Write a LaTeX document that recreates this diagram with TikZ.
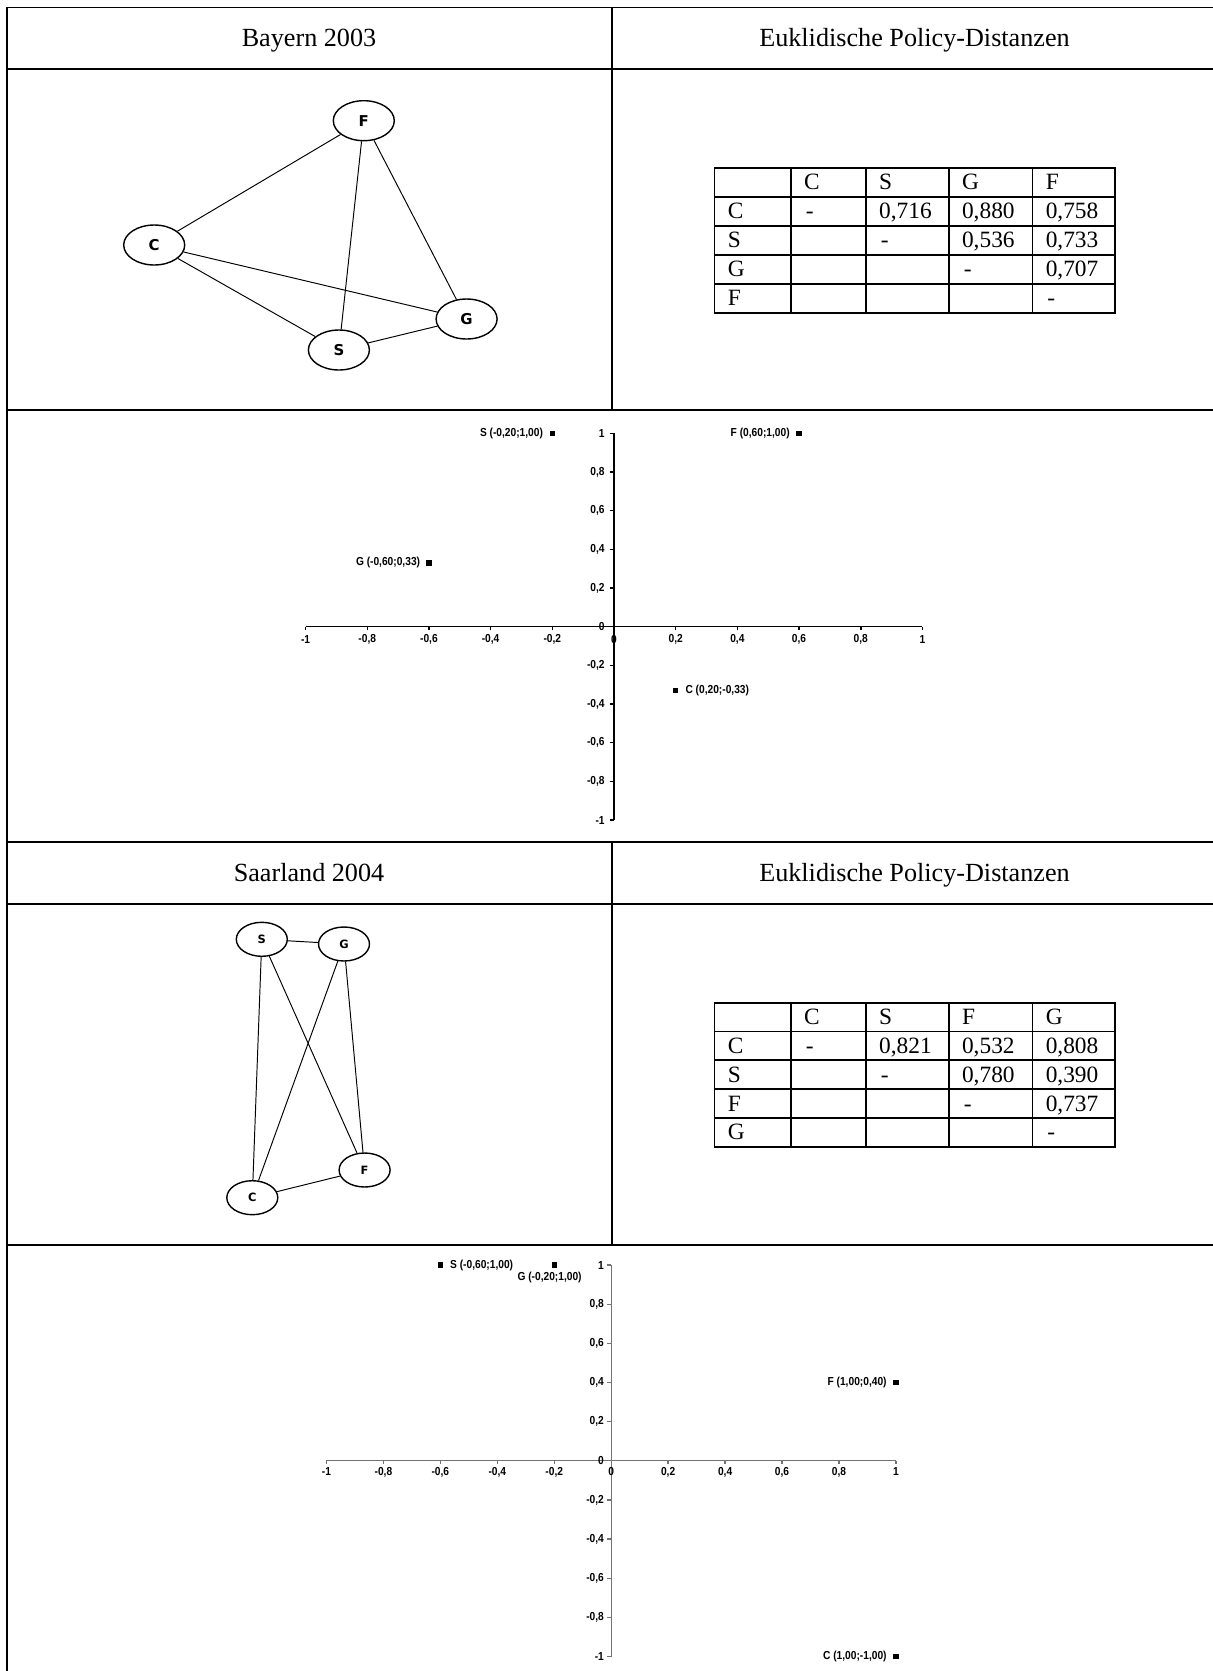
\documentclass[tikz,border=0pt]{standalone}
\usepackage{fontspec}
\setmainfont{Liberation Serif}
\newfontfamily\plotfont[FakeStretch=0.88]{Liberation Sans}
\newfontfamily\nodefont{DejaVu Sans}
\usetikzlibrary{shapes.geometric}
\begin{document}
\begin{tikzpicture}[x=0.02cm,y=-0.02cm,
  frame/.style={line width=1.1pt, line cap=rect},
  gridline/.style={line width=1pt, line cap=rect},
  party/.style={ellipse, draw, line width=0.8pt, minimum width=1.22cm, minimum height=0.8cm, inner sep=0pt, font=\nodefont\bfseries\fontsize{8.5}{9}\selectfont},
  partysmall/.style={party, minimum width=1.02cm, minimum height=0.68cm, font=\nodefont\bfseries\fontsize{6.5}{7}\selectfont},
  edge/.style={line width=0.55pt},
  title/.style={anchor=base, font=\fontsize{14.9}{16}\selectfont, inner sep=0pt},
  cell/.style={anchor=base west, font=\fontsize{13.3}{14}\selectfont, inner sep=0pt},
  axisA/.style={line width=0.85pt, black},
  axisB/.style={line width=0.75pt, black!55},
  ticklab/.style={font=\plotfont\bfseries\fontsize{6.6}{7}\selectfont, inner sep=0pt},
  marker/.style={rectangle, fill=black, minimum size=0.11cm, inner sep=0pt}
]
\useasboundingbox (0,0) rectangle (1213,1671);

% ---------- frame ----------
\draw[frame] (1213,7.5) -- (7,7.5) -- (7,1671);
\foreach \y in {69,410,842,904,1245} \draw[frame] (7,\y) -- (1213,\y);
\draw[frame] (612,7.5) -- (612,410);
\draw[frame] (612,842) -- (612,1245);

% ---------- titles ----------
\node[title] (t1) at (309,46.7) {Bayern 2003};
\node[title] (t2) at (914.5,46.7) {Euklidische Policy-Distanzen};
\node[title] (t3) at (309,881.7) {Saarland 2004};
\node[title] (t4) at (914.5,881.7) {Euklidische Policy-Distanzen};

% ---------- graph Bayern ----------
\node[party] (bF) at (363.8,120.7) {F};
\node[party] (bC) at (154.2,245) {C};
\node[party] (bG) at (466.6,319) {G};
\node[party] (bS) at (338.9,350) {S};
\draw[edge] (bC) -- (bF);
\draw[edge] (bF) -- (bS);
\draw[edge] (bF) -- (bG);
\draw[edge] (bC) -- (bG);
\draw[edge] (bC) -- (bS);
\draw[edge] (bS) -- (bG);

% ---------- graph Saarland ----------
\node[partysmall] (sS) at (261.8,939.3) {S};
\node[partysmall] (sG) at (344,944) {G};
\node[partysmall] (sF) at (364.6,1170) {F};
\node[partysmall] (sC) at (252.3,1197.7) {C};
\draw[edge] (sS) -- (sG);
\draw[edge] (sS) -- (sC);
\draw[edge] (sS) -- (sF);
\draw[edge] (sG) -- (sC);
\draw[edge] (sG) -- (sF);
\draw[edge] (sC) -- (sF);

% ---------- table Bayern ----------
\foreach \x in {714.5,790.8,865.8,948.7,1032.4,1115.2} \draw[gridline] (\x,167.7) -- (\x,312.7);
\foreach \y in {167.7,196.7,225.7,254.7,283.7,312.7} \draw[gridline] (714.5,\y) -- (1115.2,\y);
\node[cell] (a01) at (803.8,189.7) {C};
\node[cell] (a02) at (878.8,189.7) {S};
\node[cell] (a03) at (961.7,189.7) {G};
\node[cell] (a04) at (1045.4,189.7) {F};
\node[cell] (a10) at (727.5,218.7) {C};
\node[cell] (a11) at (805.5,218.7) {-};
\node[cell] (a12) at (878.8,218.7) {0,716};
\node[cell] (a13) at (961.7,218.7) {0,880};
\node[cell] (a14) at (1045.4,218.7) {0,758};
\node[cell] (a20) at (727.5,247.7) {S};
\node[cell] (a22) at (880.5,247.7) {-};
\node[cell] (a23) at (961.7,247.7) {0,536};
\node[cell] (a24) at (1045.4,247.7) {0,733};
\node[cell] (a30) at (727.5,276.7) {G};
\node[cell] (a33) at (963.5,276.7) {-};
\node[cell] (a34) at (1045.4,276.7) {0,707};
\node[cell] (a40) at (727.5,305.7) {F};
\node[cell] (a44) at (1047,305.7) {-};

% ---------- table Saarland ----------
\foreach \x in {714.5,790.8,865.8,948.7,1032.4,1115.2} \draw[gridline] (\x,1002.7) -- (\x,1146.7);
\foreach \y in {1002.7,1031.5,1060.3,1089.1,1117.9,1146.7} \draw[gridline] (714.5,\y) -- (1115.2,\y);
\node[cell] (b01) at (803.8,1024.7) {C};
\node[cell] (b02) at (878.8,1024.7) {S};
\node[cell] (b03) at (961.7,1024.7) {F};
\node[cell] (b04) at (1045.4,1024.7) {G};
\node[cell] (b10) at (727.5,1053.5) {C};
\node[cell] (b11) at (805.5,1053.5) {-};
\node[cell] (b12) at (878.8,1053.5) {0,821};
\node[cell] (b13) at (961.7,1053.5) {0,532};
\node[cell] (b14) at (1045.4,1053.5) {0,808};
\node[cell] (b20) at (727.5,1082.3) {S};
\node[cell] (b22) at (880.5,1082.3) {-};
\node[cell] (b23) at (961.7,1082.3) {0,780};
\node[cell] (b24) at (1045.4,1082.3) {0,390};
\node[cell] (b30) at (727.5,1111.1) {F};
\node[cell] (b33) at (963.5,1111.1) {-};
\node[cell] (b34) at (1045.4,1111.1) {0,737};
\node[cell] (b40) at (727.5,1139.9) {G};
\node[cell] (b44) at (1047,1139.9) {-};

% ---------- plot Bayern ----------
\begin{scope}[shift={(614,626.7)}, x=6.17cm, y=3.868cm]
  \coordinate (o1) at (0,0);
  \draw[axisA] (-1,0) -- (1,0);
  \draw[axisA] (0,-1) -- (0,1);
  \foreach \v/\l [count=\i] in {-1/-1,-0.8/{-0,8},-0.6/{-0,6},-0.4/{-0,4},-0.2/{-0,2},0/0,0.2/{0,2},0.4/{0,4},0.6/{0,6},0.8/{0,8},1/1}{
    \draw[axisA] (\v,0) -- ++(0,-0.075cm);
    \node[ticklab, yshift=-0.252cm] (p1x\i) at (\v,0) {\l};
    \draw[axisA] (0,\v) -- ++(-0.09cm,0);
    \node[ticklab, anchor=east, xshift=-0.18cm] (p1y\i) at (0,\v) {\l};
  }
  \node[marker] (p1S) at (-0.2,1) {};
  \node[marker] (p1F) at (0.6,1) {};
  \node[marker] (p1G) at (-0.6,0.33) {};
  \node[marker] (p1C) at (0.2,-0.33) {};
  \node[ticklab, anchor=east, xshift=-0.18cm] (p1Sl) at (p1S.center) {S (-0,20;1,00)};
  \node[ticklab, anchor=east, xshift=-0.18cm] (p1Fl) at (p1F.center) {F (0,60;1,00)};
  \node[ticklab, anchor=east, xshift=-0.17cm] (p1Gl) at (p1G.center) {G (-0,60;0,33)};
  \node[ticklab, anchor=west, xshift=0.19cm] (p1Cl) at (p1C.center) {C (0,20;-0,33)};
\end{scope}

% ---------- plot Saarland ----------
\begin{scope}[shift={(611.2,1460.8)}, x=5.696cm, y=3.916cm]
  \coordinate (o2) at (0,0);
  \draw[axisB] (-1,0) -- (1,0);
  \draw[axisB] (0,-1) -- (0,1);
  \foreach \v/\l [count=\i] in {-1/-1,-0.8/{-0,8},-0.6/{-0,6},-0.4/{-0,4},-0.2/{-0,2},0/0,0.2/{0,2},0.4/{0,4},0.6/{0,6},0.8/{0,8},1/1}{
    \draw[axisB] (\v,0) -- ++(0,-0.07cm);
    \node[ticklab, yshift=-0.222cm] (p2x\i) at (\v,0) {\l};
    \draw[axisB] (0,\v) -- ++(-0.08cm,0);
    \node[ticklab, anchor=east, xshift=-0.14cm] (p2y\i) at (0,\v) {\l};
  }
  \node[marker] (p2S) at (-0.6,1) {};
  \node[marker] (p2G) at (-0.2,1) {};
  \node[marker] (p2F) at (1,0.4) {};
  \node[marker] (p2C) at (1,-1) {};
  \node[ticklab, anchor=west, xshift=0.19cm] (p2Sl) at (p2S.center) {S (-0,60;1,00)};
  \node[ticklab, xshift=-0.094cm, yshift=-0.254cm] (p2Gl) at (p2G.center) {G (-0,20;1,00)};
  \node[ticklab, anchor=east, xshift=-0.18cm] (p2Fl) at (p2F.center) {F (1,00;0,40)};
  \node[ticklab, anchor=east, xshift=-0.18cm] (p2Cl) at (p2C.center) {C (1,00;-1,00)};
\end{scope}
\end{tikzpicture}
\end{document}
